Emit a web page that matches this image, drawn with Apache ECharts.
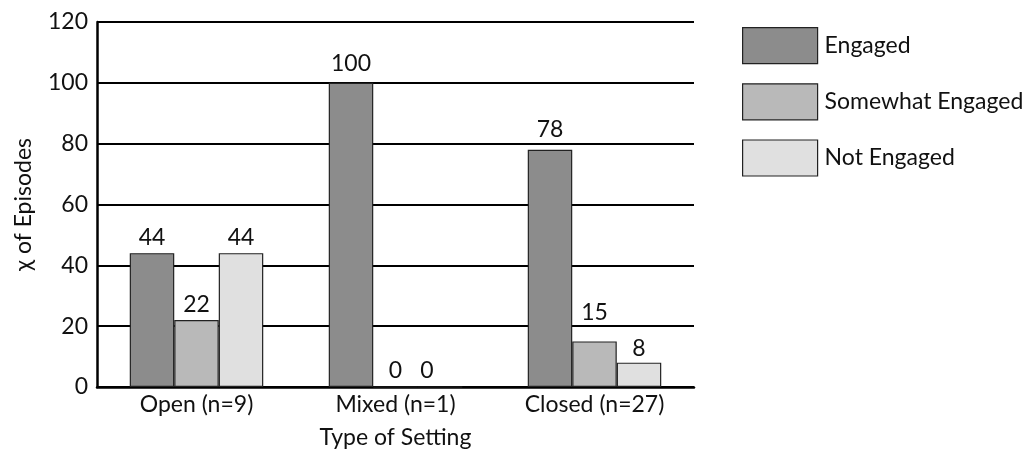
<!DOCTYPE html>
<html>
<head>
<meta charset="utf-8">
<script src="https://cdn.jsdelivr.net/npm/echarts@6/dist/echarts.min.js"></script>
<style>
  html, body { margin: 0; padding: 0; background: #fff; }
  #chart { width: 1029px; height: 462px; }
</style>
</head>
<body>
<div id="chart"></div>
<script>
// Settings on the category axis and the share of episodes in each engagement level
const categories = ['Open (n=9)', 'Mixed (n=1)', 'Closed (n=27)'];
const seriesNames = ['Engaged', 'Somewhat Engaged', 'Not Engaged'];
const engaged = [44, 100, 78];
const somewhatEngaged = [22, 0, 15];
const notEngaged = [44, 0, 8];
const yTicks = [0, 20, 40, 60, 80, 100, 120];

const colors = ['#8c8c8c', '#b9b9b9', '#e0e0e0'];
const FONT = 'Lato, "Open Sans", sans-serif';
const FS = 23;

// hand-placed nudges for a few value labels: [series][category] -> [dx, dy]
const labelNudge = {
  '0-1': [0, -4],
  '0-2': [0, -5],
  '1-2': [0, -13],
  '2-1': [-13, 0],
  '2-2': [0, 1]
};

const chart = echarts.init(document.getElementById('chart'), null, { renderer: 'canvas' });

function makeSeries(name, values, color, idx) {
  return {
    name: name,
    type: 'bar',
    barWidth: 44.5,
    barGap: '0%',
    data: values.map(function (v, i) {
      const item = { value: v };
      const n = labelNudge[idx + '-' + i];
      if (n) item.label = { offset: n };
      return item;
    }),
    itemStyle: { color: color, borderColor: '#222', borderWidth: 1.2 },
    label: {
      show: true,
      position: 'top',
      distance: 4,
      color: '#111',
      fontFamily: FONT,
      fontSize: FS
    }
  };
}

chart.setOption({
  animation: false,
  backgroundColor: '#fff',
  grid: { left: 97, right: 335, top: 22, bottom: 75 },
  legend: {
    orient: 'vertical',
    left: 737,
    top: 22,
    itemWidth: 75,
    itemHeight: 36,
    itemGap: 19,
    icon: 'rect',
    data: seriesNames,
    textStyle: { fontFamily: FONT, fontSize: FS, color: '#111', padding: [0, 0, 0, 2] },
    itemStyle: { borderColor: '#222', borderWidth: 1.2 }
  },
  xAxis: {
    type: 'category',
    data: categories,
    name: 'Type of Setting',
    nameLocation: 'middle',
    nameGap: 39,
    nameTextStyle: { fontFamily: FONT, fontSize: FS, color: '#111' },
    axisLine: { show: true, lineStyle: { color: '#000', width: 2.5 } },
    axisTick: { show: false },
    axisLabel: { fontFamily: FONT, fontSize: FS, color: '#111', margin: 6 }
  },
  yAxis: {
    type: 'value',
    min: yTicks[0],
    max: yTicks[yTicks.length - 1],
    interval: 20,
    name: 'χ of Episodes',
    nameLocation: 'middle',
    nameGap: 62,
    nameTextStyle: { fontFamily: FONT, fontSize: FS, color: '#111' },
    axisLine: { show: true, lineStyle: { color: '#000', width: 2.5 } },
    axisTick: { show: false },
    axisLabel: { fontFamily: FONT, fontSize: FS, color: '#111', margin: 9 },
    splitLine: { show: true, lineStyle: { color: '#000', width: 2 } }
  },
  series: [
    makeSeries(seriesNames[0], engaged, colors[0], 0),
    makeSeries(seriesNames[1], somewhatEngaged, colors[1], 1),
    makeSeries(seriesNames[2], notEngaged, colors[2], 2)
  ]
});
</script>
</body>
</html>
